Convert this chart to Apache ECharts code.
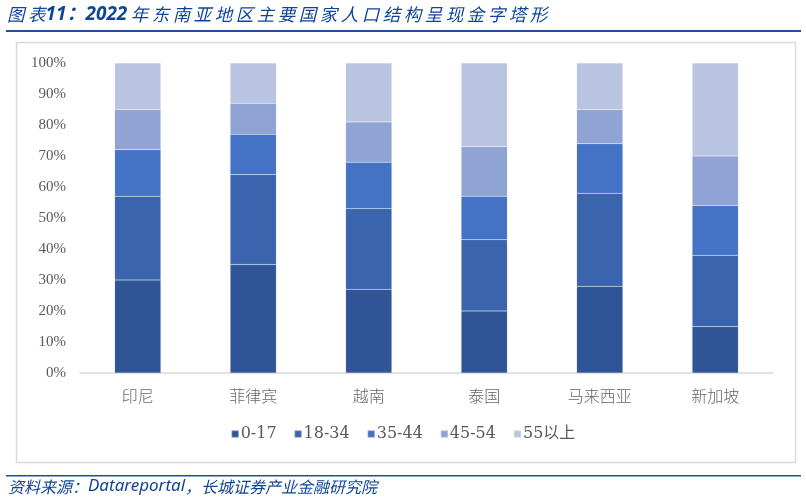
<!DOCTYPE html>
<html><head><meta charset="utf-8">
<style>html,body{margin:0;padding:0;background:#fff}#c{width:806px;height:501px}</style>
<script src="https://cdn.jsdelivr.net/npm/echarts@6/dist/echarts.min.js"></script>
</head><body><div id="c"></div>
<script>
const categories = ['印尼','菲律宾','越南','泰国','马来西亚','新加坡'];
const seriesNames = ['0-17','18-34','35-44','45-54','55以上'];
const age0_17  = [30, 35, 27, 20, 28, 15];
const age18_34 = [27, 29, 26, 23, 30, 23];
const age35_44 = [15, 13, 15, 14, 16, 16];
const age45_54 = [13, 10, 13, 16, 11, 16];
const age55up  = [15, 13, 19, 27, 15, 30];
const yTicks = [0,10,20,30,40,50,60,70,80,90,100];
const colors = ['#2F5597','#3A64AD','#4472C4','#8FA3D4','#B9C4E1'];
const values = [age0_17, age18_34, age35_44, age45_54, age55up];

const sp = s => s.split('').join('\u2009');
const cjk = '"Liberation Serif","Noto Sans CJK SC",serif';
const chart = echarts.init(document.getElementById('c'));
chart.setOption({
  animation: false,
  backgroundColor: '#fff',
  color: colors,
  graphic: [
    {type:'text', left: 7, top: 5, style:{
      text:'{a|' + sp('图表') + '}{b|11：2022}{a|\u2009' + sp('年东南亚地区主要国家人口结构呈现金字塔形') + '}',
      rich:{
        a:{font:'italic 17.5px "Noto Sans CJK SC"', fill:'#0F4496'},
        b:{font:'italic bold 19px "Noto Sans","Noto Sans CJK SC"', fill:'#0F4496'}
      }}},
    {type:'rect', shape:{x:6,y:30,width:795,height:2}, style:{fill:'#1F4E9B'}},
    {type:'rect', shape:{x:16.5,y:42.5,width:779,height:420}, style:{fill:'none', stroke:'#D9D9D9', lineWidth:1.5}},
    {type:'rect', shape:{x:6,y:475,width:795,height:1.5}, style:{fill:'#1F4E9B'}},
    {type:'text', left: 8, top: 478, style:{
      text:'{a|资料来源：}{b|Datareportal}{a|，长城证券产业金融研究院}',
      rich:{
        a:{font:'italic 16px "Noto Sans CJK SC"', fill:'#0F4496'},
        b:{font:'italic 17px "Noto Sans","Noto Sans CJK SC"', fill:'#0F4496'}
      }}}
  ],
  grid: {left: 80, right: 33, top: 63, bottom: 128},
  legend: {
    data: seriesNames, bottom: 54, left: 'center',
    itemWidth: 7, itemHeight: 7, itemGap: 17, icon: 'rect',
    textStyle: {color: '#595959', fontSize: 16, fontFamily: '"DejaVu Serif","Noto Sans CJK SC",serif', padding:[0,0,0,-3]}
  },
  xAxis: {
    type: 'category', data: categories,
    axisLine: {lineStyle: {color: '#D9D9D9', width: 1.5}},
    axisTick: {show: false},
    axisLabel: {color: '#666666', fontSize: 16, margin: 15, fontFamily: '"Noto Sans CJK SC"', fontWeight: 300}
  },
  yAxis: {
    type: 'value', min: 0, max: 100, interval: 10,
    axisLine: {show: false}, axisTick: {show: false},
    splitLine: {show: false},
    axisLabel: {color: '#595959', fontSize: 15, margin: 14, fontFamily: cjk,
      formatter: v => yTicks.includes(v) ? v + '%' : ''}
  },
  series: values.map((d, i) => ({
    name: seriesNames[i], type: 'bar', stack: 'total', barWidth: '40%',
    data: d,
    itemStyle: {color: colors[i], borderColor: 'rgba(255,255,255,0.2)', borderWidth: 0.5}
  }))
});
</script></body></html>
